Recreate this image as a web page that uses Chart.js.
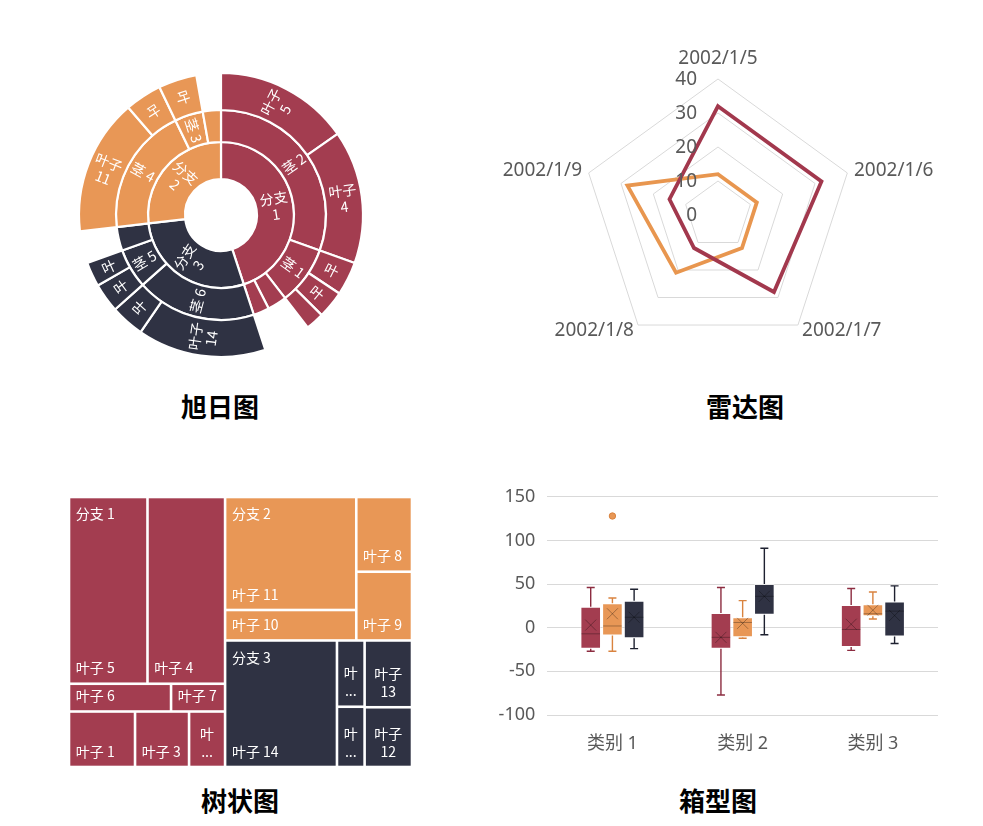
<!DOCTYPE html>
<html>
<head>
<meta charset="utf-8">
<script src="https://cdn.jsdelivr.net/npm/chart.js@4.4.1/dist/chart.umd.min.js"></script>
<style>
  html, body { margin: 0; padding: 0; background: #fff; }
  .page { position: relative; width: 983px; height: 826px; overflow: hidden; }
  canvas { position: absolute; }
  .title { position: absolute; width: 200px; text-align: center; font: bold 26px "Noto Sans CJK SC", sans-serif; color: #000; line-height: 30px; }
</style>
</head>
<body>
<div class="page">
  <canvas id="sunburst" width="320" height="320" style="left:61px;top:55px"></canvas>
  <canvas id="radar" width="460" height="330" style="left:490px;top:40px"></canvas>
  <canvas id="treemap" width="362" height="290" style="left:60px;top:487px"></canvas>
  <canvas id="boxplot" width="449" height="296" style="left:490px;top:474px"></canvas>
  <div class="title" style="left:120px;top:391px">旭日图</div>
  <div class="title" style="left:645px;top:391px">雷达图</div>
  <div class="title" style="left:140px;top:785px">树状图</div>
  <div class="title" style="left:618px;top:785px">箱型图</div>
</div>
<script>
    // ---- sunburst data (one row per leaf, in drawing order) ----
    var sbBranchOf = ['分支 1', '分支 1', '分支 1', '分支 1', '分支 1', '分支 1', '分支 1',
                      '分支 3', '分支 3', '分支 3', '分支 3', '分支 3',
                      '分支 2', '分支 2', '分支 2', '分支 2'];
    var sbStemOf = ['茎 2', '茎 2', '茎 1', '茎 1', '茎 1', '', '',
                    '茎 6', '茎 6', '茎 5', '茎 5', '',
                    '茎 4', '茎 4', '茎 3', ''];
    var sbLeaf = ['叶子 5', '叶子 4', '叶子 1', '叶子 3', '叶子 2', '叶子 6', '叶子 7',
                  '叶子 14', '叶子 15', '叶子 13', '叶子 12', '叶子 16',
                  '叶子 11', '叶子 10', '叶子 8', '叶子 9'];
    var sbValue = [88, 87, 22, 18, 12, 17, 14,
                   84, 22, 19, 16, 21,
                   89, 24, 25, 16];

    // ---- radar data ----
    var radarLabels = ['2002/1/5', '2002/1/6', '2002/1/7', '2002/1/8', '2002/1/9'];
    var radarSeries1 = [32, 32, 28, 12, 15];
    var radarSeries2 = [12, 12, 12, 21, 28];
    var radarTicks = [0, 10, 20, 30, 40];

    // ---- treemap data ----
    var tmBranchOf = ['分支 1', '分支 1', '分支 1', '分支 1', '分支 1', '分支 1', '分支 1',
                      '分支 2', '分支 2', '分支 2', '分支 2',
                      '分支 3', '分支 3', '分支 3', '分支 3', '分支 3'];
    var tmStemOf = ['茎 2', '茎 2', '', '', '茎 1', '茎 1', '茎 1',
                    '茎 4', '茎 4', '茎 3', '茎 3',
                    '茎 6', '', '', '茎 5', '茎 5'];
    var tmLeaf = ['叶子 5', '叶子 4', '叶子 6', '叶子 7', '叶子 1', '叶子 3', '叶子 2',
                  '叶子 11', '叶子 10', '叶子 8', '叶子 9',
                  '叶子 14', '叶子 15', '叶子 16', '叶子 13', '叶子 12'];
    var tmValue = [88, 87, 17, 9, 22, 18, 12,
                   89, 24, 25, 23,
                   85, 11, 10, 19, 17];

    // ---- box plot data: [series][category] ----
    var boxCategories = ['类别 1', '类别 2', '类别 3'];
    var boxMin = [[-27, -77, -26], [-27, -12, 10], [-24, -8, -18]];
    var boxQ1 = [[-24, -24, -22], [-9, -11, 13], [-12, 15, -10]];
    var boxMedian = [[-7, -11, -2], [2, 6, 16], [12, 36, 19]];
    var boxQ3 = [[24, 17, 26], [28, 12, 27], [31, 50, 30]];
    var boxMax = [[46, 46, 45], [34, 31, 41], [44, 91, 48]];
    var boxMean = [[3, -11, 4], [16, 5, 20], [12, 36, 14]];
    var boxOutliers = [[[], [], []], [[128], [], []], [[], [], []]];
    var boxTicks = { min: -100, max: 150, step: 50 };

    var branchColors = { '分支 1': '#A33D50', '分支 2': '#E89756', '分支 3': '#2F3243' };
    var seriesColors = ['#A33D50', '#E89756', '#2F3243'];
    var whiskerColors = ['#8C2C40', '#D9833F', '#1E2130'];
    var cjk = '"Noto Sans CJK SC", sans-serif';

    Chart.defaults.font.family = '"Noto Sans", "Noto Sans CJK SC", sans-serif';
    Chart.defaults.color = '#595959';
    Chart.defaults.animation = false;

    // ================= sunburst =================
    function sunburstRings() {
      var r1 = [], r2 = [], r3 = [];
      sbLeaf.forEach(function (leaf, i) {
        var b = sbBranchOf[i], s = sbStemOf[i], v = sbValue[i];
        var last1 = r1[r1.length - 1];
        if (last1 && last1.label === b) last1.value += v;
        else r1.push({ label: b, value: v, branch: b });
        if (s) {
          var last2 = r2[r2.length - 1];
          if (last2 && last2.label === s && last2.branch === b) last2.value += v;
          else r2.push({ label: s, value: v, branch: b });
          r3.push({ label: leaf, value: v, branch: b });
        } else {
          r2.push({ label: leaf, value: v, branch: b });
          r3.push({ label: '', value: v, branch: b, empty: true });
        }
      });
      return [r3, r2, r1];
    }
    var rings = sunburstRings();
    var ringWeights = [37, 32, 37];

    var sunburstLabels = {
      id: 'sunburstLabels',
      afterDatasetsDraw: function (chart) {
        var ctx = chart.ctx, lh = 16;
        ctx.save();
        ctx.font = '14px ' + cjk;
        ctx.fillStyle = '#fff';
        ctx.textAlign = 'center';
        ctx.textBaseline = 'middle';
        chart.data.datasets.forEach(function (ds, di) {
          chart.getDatasetMeta(di).data.forEach(function (arc, j) {
            var item = ds.items[j];
            if (item.empty) return;
            var p = arc.getProps(['x', 'y', 'startAngle', 'endAngle', 'innerRadius', 'outerRadius'], true);
            var mid = (p.startAngle + p.endAngle) / 2;
            var r = (p.innerRadius + p.outerRadius) / 2;
            var arcLen = (p.endAngle - p.startAngle) * r;
            var thick = p.outerRadius - p.innerRadius;
            var lines = [item.label];
            if (ctx.measureText(item.label).width > thick - 4) lines = item.label.split(' ');
            if (lines.length * lh > arcLen - 4) {
              if (arcLen >= 21) lines = [item.label.charAt(0)];
              else return;
            }
            ctx.save();
            ctx.translate(p.x + Math.cos(mid) * r, p.y + Math.sin(mid) * r);
            ctx.rotate(Math.cos(mid) < 0 ? mid - Math.PI : mid);
            lines.forEach(function (ln, k) {
              ctx.fillText(ln, 0, (k - (lines.length - 1) / 2) * lh);
            });
            ctx.restore();
          });
        });
        ctx.restore();
      }
    };

    new Chart(document.getElementById('sunburst'), {
      type: 'doughnut',
      data: {
        labels: rings[0].map(function (d) { return d.label; }),
        datasets: rings.map(function (items, k) {
          return {
            items: items,
            weight: ringWeights[k],
            data: items.map(function (d) { return d.value; }),
            backgroundColor: items.map(function (d) { return d.empty ? 'rgba(0,0,0,0)' : branchColors[d.branch]; }),
            borderColor: '#fff',
            borderWidth: items.map(function (d) { return d.empty ? 0 : 2.2; })
          };
        })
      },
      options: {
        responsive: false,
        radius: 142,
        cutout: '25.35%',
        plugins: { legend: { display: false }, tooltip: { enabled: false } }
      },
      plugins: [sunburstLabels]
    });

    // ================= radar =================
    var radarText = {
      id: 'radarText',
      afterDraw: function (chart) {
        var s = chart.scales.r, ctx = chart.ctx;
        ctx.save();
        ctx.font = '19px "Noto Sans"';
        ctx.fillStyle = '#595959';
        ctx.textBaseline = 'middle';
        ctx.textAlign = 'right';
        radarTicks.forEach(function (v) {
          var p = s.getPointPositionForValue(0, v);
          ctx.fillText(String(v), p.x - 21, p.y + 1);
        });
        radarLabels.forEach(function (lab, i) {
          var p = s.getPointPosition(i, s.drawingArea + 7);
          var dx = p.x - s.xCenter, y = p.y;
          if (Math.abs(dx) < 2) { ctx.textAlign = 'center'; y -= 13; }
          else ctx.textAlign = dx > 0 ? 'left' : 'right';
          ctx.fillText(lab, p.x, y);
        });
        ctx.restore();
      }
    };

    new Chart(document.getElementById('radar'), {
      type: 'radar',
      data: {
        labels: radarLabels,
        datasets: [
          { label: '系列1', data: radarSeries1, borderColor: '#A2384D', borderWidth: 3.8, pointRadius: 0, fill: false, backgroundColor: 'rgba(0,0,0,0)' },
          { label: '系列2', data: radarSeries2, borderColor: '#E8964F', borderWidth: 3.8, pointRadius: 0, fill: false, backgroundColor: 'rgba(0,0,0,0)' }
        ]
      },
      options: {
        responsive: false,
        layout: { padding: { left: 92, top: 39, right: 95, bottom: 18 } },
        scales: {
          r: {
            min: 0, max: 40,
            ticks: { display: false, stepSize: 10 },
            grid: { color: '#d9d9d9', lineWidth: 1 },
            angleLines: { display: false },
            pointLabels: { display: false }
          }
        },
        plugins: { legend: { display: false }, tooltip: { enabled: false } }
      },
      plugins: [radarText]
    });

    // ================= treemap =================
    function treemapTree() {
      var branches = [];
      tmLeaf.forEach(function (leaf, i) {
        var b = tmBranchOf[i], s = tmStemOf[i], v = tmValue[i];
        var br = branches[branches.length - 1];
        if (!br || br.name !== b) { br = { name: b, groups: [], value: 0 }; branches.push(br); }
        var g = br.groups[br.groups.length - 1];
        if (!g || g.stem !== s) { g = { stem: s, leaves: [], value: 0 }; br.groups.push(g); }
        g.leaves.push({ name: leaf, value: v, branch: b });
        g.value += v; br.value += v;
      });
      return branches;
    }
    function sumOf(list) { return list.reduce(function (a, d) { return a + d.value; }, 0); }
    function sliceRect(r, items, sideBySide) {
      var t = sumOf(items), off = 0;
      return items.map(function (d) {
        var f = d.value / t;
        var cell = sideBySide ? { x: r.x + off * r.w, y: r.y, w: f * r.w, h: r.h }
                              : { x: r.x, y: r.y + off * r.h, w: r.w, h: f * r.h };
        off += f;
        return cell;
      });
    }
    function binaryLayout(items, r, out) {
      if (items.length === 1) { out.push({ node: items[0], rect: r }); return; }
      var t = sumOf(items), acc = 0, k = 1, best = Infinity;
      for (var i = 1; i < items.length; i++) {
        acc += items[i - 1].value;
        if (Math.abs(acc - t / 2) < best) { best = Math.abs(acc - t / 2); k = i; }
      }
      var a = items.slice(0, k), b = items.slice(k);
      var parts = sliceRect(r, [{ value: sumOf(a) }, { value: sumOf(b) }], r.w >= r.h);
      binaryLayout(a, parts[0], out);
      binaryLayout(b, parts[1], out);
    }

    var treemapDraw = {
      id: 'treemapDraw',
      afterDraw: function (chart) {
        var xs = chart.scales.x, ys = chart.scales.y, ctx = chart.ctx;
        var x0 = xs.getPixelForValue(0), x1 = xs.getPixelForValue(1);
        var y0 = ys.getPixelForValue(0), y1 = ys.getPixelForValue(1);
        var placed = [];
        binaryLayout(treemapTree(), { x: x0, y: y0, w: x1 - x0, h: y1 - y0 }, placed);
        var gap = 1.3, pad = 5.5;
        ctx.save();
        ctx.font = '14px ' + cjk;
        placed.forEach(function (pl) {
          var br = pl.node, r = pl.rect;
          var sideBySide = r.w >= r.h;
          var groupRects = sliceRect(r, br.groups, sideBySide);
          br.groups.forEach(function (g, gi) {
            var leafRects = sliceRect(groupRects[gi], g.leaves, !sideBySide);
            g.leaves.forEach(function (leaf, li) {
              var c = leafRects[li];
              var cx = c.x + gap, cy = c.y + gap, cw = c.w - 2 * gap, ch = c.h - 2 * gap;
              ctx.fillStyle = branchColors[leaf.branch];
              ctx.fillRect(cx, cy, cw, ch);
              ctx.fillStyle = '#fff';
              var avail = cw - 2 * pad;
              if (ctx.measureText(leaf.name).width <= avail) {
                ctx.textAlign = 'left';
                ctx.textBaseline = 'alphabetic';
                ctx.fillText(leaf.name, cx + pad, cy + ch - 9);
              } else {
                var lines = leaf.name.split(' ');
                var fits = lines.every(function (ln) { return ctx.measureText(ln).width <= avail; });
                if (!fits) {
                  var head = lines[0];
                  while (head.length > 1 && ctx.measureText(head).width > avail) head = head.slice(0, -1);
                  lines = [head, '...'];
                }
                ctx.textAlign = 'center';
                ctx.textBaseline = 'alphabetic';
                lines.forEach(function (ln, k) {
                  ctx.fillText(ln, cx + cw / 2, cy + ch - 9 - (lines.length - 1 - k) * 18);
                });
              }
            });
          });
          ctx.textAlign = 'left';
          ctx.textBaseline = 'alphabetic';
          ctx.fillText(br.name, r.x + gap + pad, r.y + gap + 21);
        });
        ctx.restore();
      }
    };

    new Chart(document.getElementById('treemap'), {
      type: 'scatter',
      data: { datasets: [] },
      options: {
        responsive: false,
        layout: { padding: { left: 9, top: 10, right: 10, bottom: 10 } },
        scales: {
          x: { type: 'linear', min: 0, max: 1, display: false },
          y: { type: 'linear', min: 0, max: 1, reverse: true, display: false }
        },
        plugins: { legend: { display: false }, tooltip: { enabled: false } }
      },
      plugins: [treemapDraw]
    });

    // ================= box plot =================
    var boxParts = {
      id: 'boxParts',
      afterDatasetsDraw: function (chart) {
        var ys = chart.scales.y, ctx = chart.ctx;
        var py = function (v) { return ys.getPixelForValue(v); };
        ctx.save();
        chart.data.datasets.forEach(function (ds, s) {
          chart.getDatasetMeta(s).data.forEach(function (bar, c) {
            var cx = bar.x, hw = bar.width / 2, cap = 4;
            ctx.strokeStyle = whiskerColors[s];
            ctx.lineWidth = 1.4;
            ctx.beginPath();
            ctx.moveTo(cx, py(boxMax[s][c])); ctx.lineTo(cx, py(boxQ3[s][c]));
            ctx.moveTo(cx, py(boxQ1[s][c])); ctx.lineTo(cx, py(boxMin[s][c]));
            ctx.moveTo(cx - cap, py(boxMax[s][c])); ctx.lineTo(cx + cap, py(boxMax[s][c]));
            ctx.moveTo(cx - cap, py(boxMin[s][c])); ctx.lineTo(cx + cap, py(boxMin[s][c]));
            ctx.stroke();
            ctx.strokeStyle = 'rgba(0,0,0,0.3)';
            ctx.lineWidth = 1;
            ctx.beginPath();
            var my = py(boxMedian[s][c]);
            ctx.moveTo(cx - hw + 1, my); ctx.lineTo(cx + hw - 1, my);
            var ay = py(boxMean[s][c]), m = 5.5;
            ctx.moveTo(cx - m, ay - m); ctx.lineTo(cx + m, ay + m);
            ctx.moveTo(cx + m, ay - m); ctx.lineTo(cx - m, ay + m);
            ctx.stroke();
            boxOutliers[s][c].forEach(function (v) {
              ctx.beginPath();
              ctx.arc(cx, py(v), 3.2, 0, Math.PI * 2);
              ctx.fillStyle = seriesColors[s];
              ctx.fill();
              ctx.strokeStyle = whiskerColors[s];
              ctx.stroke();
            });
          });
        });
        ctx.restore();
      }
    };

    new Chart(document.getElementById('boxplot'), {
      type: 'bar',
      data: {
        labels: boxCategories,
        datasets: boxQ1.map(function (q1s, s) {
          return {
            label: '系列' + (s + 1),
            data: q1s.map(function (q1, c) { return [q1, boxQ3[s][c]]; }),
            backgroundColor: seriesColors[s],
            borderColor: 'rgba(255,255,255,0.45)',
            borderWidth: 1,
            borderSkipped: false,
            categoryPercentage: 0.5,
            barPercentage: 0.95
          };
        })
      },
      options: {
        responsive: false,
        layout: { padding: { top: 0, right: 1 } },
        scales: {
          y: {
            min: boxTicks.min, max: boxTicks.max,
            ticks: { stepSize: boxTicks.step, padding: 12, font: { size: 18 }, color: '#595959' },
            grid: { color: '#d9d9d9', drawTicks: false },
            border: { display: false },
            afterFit: function (axis) { axis.width = 57.3; }
          },
          x: {
            grid: { display: false },
            border: { display: false },
            ticks: { padding: 10, font: { size: 18 }, color: '#595959' },
            afterFit: function (axis) { axis.height = 55; }
          }
        },
        plugins: { legend: { display: false }, tooltip: { enabled: false } }
      },
      plugins: [boxParts]
    });
</script>
</body>
</html>
